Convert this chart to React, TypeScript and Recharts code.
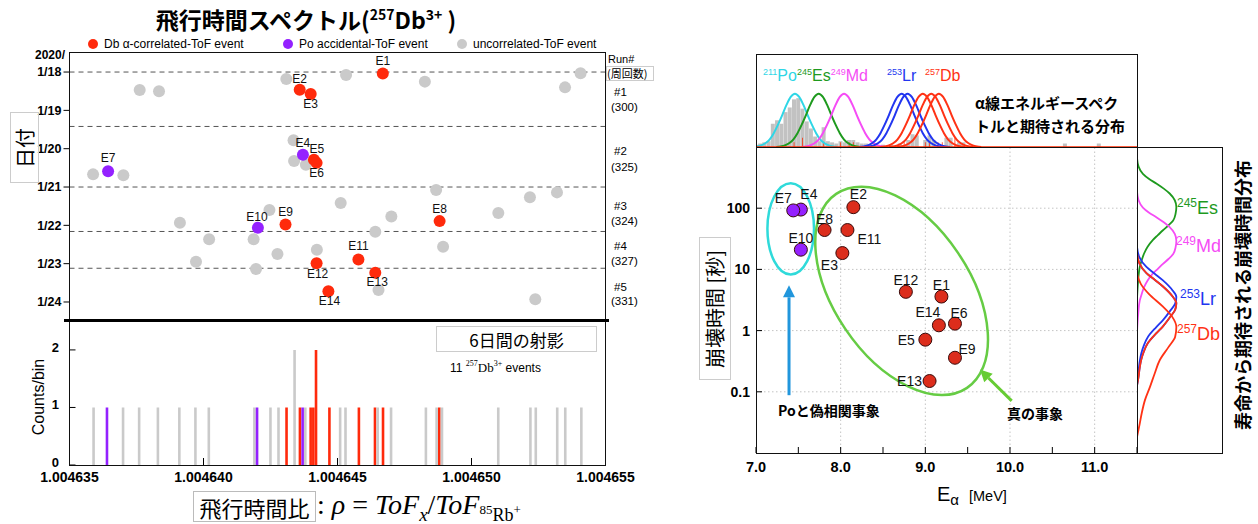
import React from "react";
import {
  ScatterChart,
  Scatter,
  XAxis,
  YAxis,
  ReferenceLine,
  ReferenceDot,
  BarChart,
  Bar,
  Cell,
  ComposedChart,
  Line,
} from "recharts";

const SANS = '"Liberation Sans", Arial, Helvetica, sans-serif';
const JP = '"Noto Sans CJK JP", "Noto Sans", sans-serif';
const SERIF = '"Liberation Serif", "Times New Roman", serif';

const RED = "#ff2a0c";
const PURPLE = "#9421ff";
const GRAY = "#cacaca";
const CYAN = "#2fd6e6";
const GREEN = "#1e9a1e";
const MAGENTA = "#f54cf5";
const BLUE = "#2236f0";
const DBRED = "#ff3215";

// ---------- left: ToF ratio vs date (day of Jan 2020) ----------
const dbTof = [
  { id: "E1", rho: 1.00464669, day: 18.04 },
  { id: "E2", rho: 1.00464359, day: 18.46 },
  { id: "E3", rho: 1.004644, day: 18.57 },
  { id: "E5", rho: 1.00464412, day: 20.29 },
  { id: "E6", rho: 1.00464422, day: 20.37 },
  { id: "E8", rho: 1.00464881, day: 21.89 },
  { id: "E9", rho: 1.00464306, day: 21.98 },
  { id: "E11", rho: 1.00464578, day: 22.89 },
  { id: "E12", rho: 1.00464422, day: 22.99 },
  { id: "E13", rho: 1.00464641, day: 23.24 },
  { id: "E14", rho: 1.00464466, day: 23.72 },
];
const poTof = [
  { id: "E4", rho: 1.00464371, day: 20.16 },
  { id: "E7", rho: 1.00463644, day: 20.59 },
  { id: "E10", rho: 1.00464203, day: 22.06 },
];
const otherTof = [
  { rho: 1.00463762, day: 18.47 },
  { rho: 1.00463834, day: 18.5 },
  { rho: 1.00464309, day: 18.18 },
  { rho: 1.00464532, day: 18.08 },
  { rho: 1.00464826, day: 18.25 },
  { rho: 1.00465349, day: 18.4 },
  { rho: 1.00465407, day: 18.03 },
  { rho: 1.00464336, day: 19.78 },
  { rho: 1.00464338, day: 20.32 },
  { rho: 1.00464382, day: 20.42 },
  { rho: 1.00463588, day: 20.67 },
  { rho: 1.00463701, day: 20.69 },
  { rho: 1.00464868, day: 21.08 },
  { rho: 1.00465218, day: 21.27 },
  { rho: 1.00465319, day: 21.14 },
  { rho: 1.00464512, day: 21.42 },
  { rho: 1.00464246, day: 21.6 },
  { rho: 1.00464701, day: 21.77 },
  { rho: 1.004651, day: 21.68 },
  { rho: 1.00463912, day: 21.93 },
  { rho: 1.00464641, day: 22.17 },
  { rho: 1.00464021, day: 22.36 },
  { rho: 1.00464187, day: 22.36 },
  { rho: 1.00464894, day: 22.56 },
  { rho: 1.00464423, day: 22.64 },
  { rho: 1.00464276, day: 22.75 },
  { rho: 1.00463972, day: 22.95 },
  { rho: 1.00464196, day: 23.14 },
  { rho: 1.00464653, day: 23.69 },
  { rho: 1.00465238, day: 23.93 },
];
const dayTicks = [18, 19, 20, 21, 22, 23, 24];
const runBounds = [18, 19.42, 21.0, 22.16, 23.12];
const rhoTicks = [1.004635, 1.00464, 1.004645, 1.00465, 1.004655];
const countTicks = [0, 1, 2];

// ---------- right: decay time vs alpha energy ----------
const dbDecays = [
  { id: "E1", e: 9.19, t: 3.6 },
  { id: "E2", e: 8.15, t: 104 },
  { id: "E3", e: 8.02, t: 18.5 },
  { id: "E5", e: 9.0, t: 0.71 },
  { id: "E6", e: 9.35, t: 1.3 },
  { id: "E8", e: 7.81, t: 44 },
  { id: "E9", e: 9.35, t: 0.36 },
  { id: "E11", e: 8.08, t: 44 },
  { id: "E12", e: 8.77, t: 4.3 },
  { id: "E13", e: 9.05, t: 0.15 },
  { id: "E14", e: 9.16, t: 1.22 },
];
const poDecays = [
  { id: "E4", e: 7.53, t: 95 },
  { id: "E7", e: 7.44, t: 92 },
  { id: "E10", e: 7.53, t: 21 },
];
const energyTicks = [7, 7.5, 8, 8.5, 9, 9.5, 10, 10.5, 11, 11.5];
const timeTicks = [0.1, 1, 10, 100];

// alpha spectrum (gray histogram, 0.05 MeV bins)
const specE = [
  7.0, 7.05, 7.1, 7.15, 7.2, 7.25, 7.3, 7.35, 7.4, 7.45, 7.5, 7.55, 7.6, 7.65,
  7.7, 7.75, 7.8, 7.85, 7.9, 7.95, 8.0, 8.05, 8.1, 8.15, 8.2, 8.25, 8.3, 8.35,
  8.4, 8.5, 8.6, 8.7, 8.8, 8.85, 8.9, 9.0, 9.05, 9.1, 9.25, 9.3, 9.4, 9.45,
  10.65, 11.05,
];
const specGray = [
  0.1, 0.15, 0.2, 0.25, 1.0, 1.15, 1.0, 1.5, 1.7, 2.05, 2.1, 1.65, 1.1, 0.8,
  0.45, 0.25, 0.85, 0.25, 0.2, 0.15, 0.25, 0.2, 0.3, 0.3, 0.2, 0.15, 0.15, 0.1,
  0.1, 0.1, 0.1, 0.15, 0.3, 0.55, 0.5, 0.3, 0.5, 0.3, 0.4, 0.4, 0.2, 0.2, 0.15,
  0.15,
];

// expected alpha lines: peak energy, and one shape
const alphaPeaks = [
  { name: "Po211", e: 7.46, color: CYAN },
  { name: "Es245", e: 7.74, color: GREEN },
  { name: "Md249", e: 8.04, color: MAGENTA },
  { name: "Lr253a", e: 8.72, color: BLUE },
  { name: "Lr253b", e: 8.79, color: BLUE },
  { name: "Db257a", e: 8.97, color: DBRED },
  { name: "Db257b", e: 9.07, color: DBRED },
  { name: "Db257c", e: 9.16, color: DBRED },
];
const alphaShape = [
  [-0.5, 0], [-0.45, 0.01], [-0.4, 0.03], [-0.35, 0.07], [-0.3, 0.14],
  [-0.25, 0.26], [-0.2, 0.42], [-0.15, 0.6], [-0.1, 0.79], [-0.05, 0.94],
  [0, 1], [0.05, 0.94], [0.1, 0.79], [0.15, 0.6], [0.2, 0.42], [0.25, 0.26],
  [0.3, 0.14], [0.35, 0.07], [0.4, 0.03], [0.45, 0.01], [0.5, 0],
];

// expected decay-time distributions (log10 seconds), shapes
const narrowShape = [
  [0.8, 0], [0.66, 0.04], [0.54, 0.15], [0.46, 0.3], [0.38, 0.5], [0.3, 0.68],
  [0.22, 0.83], [0.11, 0.96], [0, 1], [-0.11, 0.98], [-0.22, 0.92],
  [-0.3, 0.8], [-0.38, 0.66], [-0.46, 0.53], [-0.54, 0.4], [-0.65, 0.27],
  [-0.76, 0.18], [-0.87, 0.12], [-0.98, 0.07], [-1.2, 0.03], [-1.5, 0],
];
const lrShape = [
  [0.82, 0], [0.65, 0.06], [0.49, 0.24], [0.38, 0.45], [0.27, 0.66],
  [0.11, 0.9], [0, 1], [-0.11, 0.97], [-0.22, 0.85], [-0.38, 0.66],
  [-0.5, 0.48], [-0.65, 0.28], [-0.8, 0.17], [-0.92, 0.11], [-1.05, 0.07],
  [-1.2, 0.04], [-1.35, 0],
];
const wideShape = [
  [0.87, 0], [0.7, 0.1], [0.54, 0.3], [0.33, 0.66], [0.16, 0.9], [0, 1],
  [-0.16, 0.97], [-0.33, 0.8], [-0.54, 0.58], [-0.76, 0.45], [-0.98, 0.33],
  [-1.2, 0.2], [-1.41, 0.12], [-1.58, 0.07], [-1.8, 0],
];
const decayPeaks = [
  { name: "Es", lt: 2.02, shape: narrowShape, color: GREEN },
  { name: "Md", lt: 1.47, shape: narrowShape, color: MAGENTA },
  { name: "Lr1", lt: 0.55, shape: lrShape, color: BLUE },
  { name: "Lr2", lt: 0.45, shape: lrShape, color: BLUE },
  { name: "Db1", lt: 0.45, shape: lrShape, color: DBRED },
  { name: "Db2", lt: 0.06, shape: wideShape, color: DBRED },
];

// ---------- derived tables ----------
const RHO0 = 1.004635;
const RHO1 = 1.004655;
const BIN = 1e-7;
const tofBins = new Map<number, { u: number; p: number; d: number }>();
const addTof = (list: { rho: number }[], k: "u" | "p" | "d") =>
  list.forEach((ev) => {
    const b = Math.round((ev.rho - RHO0) / BIN);
    const row = tofBins.get(b) ?? { u: 0, p: 0, d: 0 };
    row[k] += 1;
    tofBins.set(b, row);
  });
addTof(otherTof, "u");
addTof(poTof, "p");
addTof(dbTof, "d");
const kindColor: Record<string, string> = { u: GRAY, p: PURPLE, d: RED };
const histRows = [...tofBins.entries()]
  .sort((a, b) => a[0] - b[0])
  .map(([b, c]) => {
    const kind = c.d ? "d" : c.p ? "p" : "u";
    return { rho: RHO0 + b * BIN, n: c[kind as "u" | "p" | "d"], kind };
  });

const grayRows = specE.map((e, i) => ({ e, gray: specGray[i] }));
const redMap = new Map<number, number>();
[...dbDecays, ...poDecays].forEach((p) => {
  const k = Math.round(p.e * 20);
  redMap.set(k, (redMap.get(k) ?? 0) + 1);
});
const redRows = [...redMap.entries()]
  .sort((a, b) => a[0] - b[0])
  .map(([k, n]) => ({ e: k / 20, red: n }));

const alphaCurves = alphaPeaks.map((p) => ({
  ...p,
  data: alphaShape.map(([o, h]) => ({ e: p.e + o, h })),
}));
const decayCurves = decayPeaks.map((p) => ({
  ...p,
  data: p.shape.map(([o, d]) => ({ lt: p.lt + o, d })).sort((a, b) => a.lt - b.lt),
}));

// label placement (dx, dy from the dot centre)
const tofLabel: Record<string, [number, number]> = {
  E1: [0, -13], E2: [0, -11], E3: [0, 10], E4: [0, -12], E5: [3, -11],
  E6: [0, 10], E7: [0, -13], E8: [0, -12], E9: [0, -13], E10: [-1, -11],
  E11: [0, -13], E12: [1, 11], E13: [2, 9], E14: [1, 10],
};
const decayLabel: Record<string, [number, number]> = {
  E1: [0, -12], E2: [5, -13], E3: [-13, 12], E4: [8, -16], E5: [-19, 0],
  E6: [4, -11], E7: [-10, -12], E8: [0, -11], E9: [12, -9], E10: [0, -12],
  E11: [22, 9], E12: [0, -12], E13: [-20, 0], E14: [-11, -13],
};

const dot =
  (fill: string, r: number, stroke?: string, labels?: Record<string, [number, number]>, fs = 12) =>
  (props: any) => {
    const { cx, cy, payload } = props;
    const off = labels && payload && labels[payload.id];
    return (
      <g>
        <circle cx={cx} cy={cy} r={r} fill={fill} stroke={stroke ?? "none"} strokeWidth={1} />
        {off && (
          <text
            x={cx + off[0]}
            y={cy + off[1]}
            textAnchor="middle"
            dominantBaseline="central"
            fontSize={fs}
            fontFamily={SANS}
            fill="#111"
          >
            {payload.id}
          </text>
        )}
      </g>
    );
  };

const ellipse = (rx: number, ry: number, angle: number, color: string) => (p: any) => (
  <ellipse
    cx={p.cx}
    cy={p.cy}
    rx={rx}
    ry={ry}
    transform={`rotate(${angle} ${p.cx} ${p.cy})`}
    fill="none"
    stroke={color}
    strokeWidth={2.5}
  />
);

const arrow = (color: string) => (p: any) => {
  const { x1, y1, x2, y2 } = p;
  const a = Math.atan2(y2 - y1, x2 - x1);
  const L = 12;
  const W = 6;
  const bx = x2 - L * Math.cos(a);
  const by = y2 - L * Math.sin(a);
  const pts = [
    [x2, y2],
    [bx - W * Math.sin(a), by + W * Math.cos(a)],
    [bx + W * Math.sin(a), by - W * Math.cos(a)],
  ]
    .map((q) => q.join(","))
    .join(" ");
  return (
    <g>
      <line x1={x1} y1={y1} x2={bx} y2={by} stroke={color} strokeWidth={3} />
      <polygon points={pts} fill={color} />
    </g>
  );
};

const Sup = ({ children, size }: { children: React.ReactNode; size: number }) => (
  <span style={{ fontSize: size, verticalAlign: "super", lineHeight: 0 }}>{children}</span>
);

const Txt = ({
  x,
  y,
  ax = 0,
  rot = 0,
  style,
  children,
}: {
  x: number;
  y: number;
  ax?: number;
  rot?: number;
  style?: React.CSSProperties;
  children: React.ReactNode;
}) => (
  <div
    style={{
      position: "absolute",
      left: x,
      top: y,
      whiteSpace: "nowrap",
      lineHeight: 1,
      transform: `translate(${-ax * 100}%, -50%)${rot ? ` rotate(${rot}deg)` : ""}`,
      transformOrigin: rot ? "50% 50%" : undefined,
      ...style,
    }}
  >
    {children}
  </div>
);

const Frame = ({ l, t, r, b, w = 1 }: { l: number; t: number; r: number; b: number; w?: number }) => (
  <div
    style={{
      position: "absolute",
      left: l,
      top: t,
      width: r - l,
      height: b - t,
      border: `${w}px solid #111`,
      boxSizing: "border-box",
      pointerEvents: "none",
    }}
  />
);

const tickFont = (size: number, dy = 0) => ({
  fontSize: size,
  fontWeight: 700,
  fill: "#000",
  fontFamily: SANS,
  dy,
});

// shared geometry of the alpha-spectrum panel (gray layer and red layer)
const specBox = { width: 411, height: 113, margin: { top: 10, right: 20, bottom: 0, left: 0 } };

export default function App() {
  return (
    <div
      style={{
        position: "absolute",
        left: 0,
        top: 0,
        width: 1258,
        height: 524,
        background: "#fff",
        fontFamily: SANS,
        color: "#000",
        overflow: "hidden",
      }}
    >
      {/* ---------- left: title & legend ---------- */}
      <Txt x={306} y={19} ax={0.5} style={{ fontFamily: JP, fontWeight: 700, fontSize: 23 }}>
        飛行時間スペクトル(<Sup size={14}>257</Sup>Db<Sup size={14}>3+</Sup> )
      </Txt>
      {[
        { c: RED, x: 93, label: "Db α-correlated-ToF event" },
        { c: PURPLE, x: 288, label: "Po accidental-ToF event" },
        { c: GRAY, x: 462, label: "uncorrelated-ToF event" },
      ].map((it) => (
        <React.Fragment key={it.label}>
          <div
            style={{
              position: "absolute",
              left: it.x - 5,
              top: 39,
              width: 10,
              height: 10,
              borderRadius: 5,
              background: it.c,
            }}
          />
          <Txt x={it.x + 11} y={44} style={{ fontSize: 12 }}>
            {it.label}
          </Txt>
        </React.Fragment>
      ))}

      {/* ---------- left: ToF vs date ---------- */}
      <div style={{ position: "absolute", left: 0, top: 0 }}>
        <ScatterChart width={620} height={330} margin={{ top: 52.5, right: 14.5, bottom: 10, left: 0 }}>
          <XAxis
            dataKey="rho"
            type="number"
            orientation="top"
            domain={[RHO0, RHO1]}
            ticks={rhoTicks.slice(1, 4)}
            tick={false}
            tickSize={-7}
            axisLine={false}
            height={0}
            stroke="#000"
            allowDataOverflow
          />
          <YAxis
            dataKey="day"
            type="number"
            reversed
            domain={[17.49, 24.47]}
            ticks={dayTicks}
            interval={0}
            tickFormatter={(d: number) => `1/${d}`}
            width={69.5}
            tickSize={6}
            tickMargin={2}
            axisLine={false}
            stroke="#000"
            tick={tickFont(12.5)}
            allowDataOverflow
          />
          <YAxis
            yAxisId="run"
            orientation="right"
            type="number"
            reversed
            domain={[17.49, 24.47]}
            ticks={[runBounds[0], runBounds[2]]}
            tick={false}
            tickSize={7}
            axisLine={false}
            width={0}
            stroke="#000"
          />
          {runBounds.map((d) => (
            <ReferenceLine key={d} y={d} stroke="#555" strokeDasharray="5 4" />
          ))}
          <Scatter data={otherTof} shape={dot(GRAY, 6)} isAnimationActive={false} />
          <Scatter data={poTof} shape={dot(PURPLE, 6, undefined, tofLabel, 12)} isAnimationActive={false} />
          <Scatter data={dbTof} shape={dot(RED, 6, undefined, tofLabel, 12)} isAnimationActive={false} />
        </ScatterChart>
      </div>
      <Txt x={65} y={55} ax={1} style={{ fontSize: 12, fontWeight: 700 }}>
        2020/
      </Txt>
      <div
        style={{
          position: "absolute",
          left: 10,
          top: 112,
          width: 29,
          height: 71,
          border: "1px solid #ccc",
          boxSizing: "border-box",
        }}
      />
      <Txt x={24.5} y={147.5} ax={0.5} rot={-90} style={{ fontFamily: JP, fontSize: 20 }}>
        日付
      </Txt>
      <Txt x={608} y={59} style={{ fontSize: 11 }}>
        Run#
      </Txt>
      <div
        style={{
          position: "absolute",
          left: 606,
          top: 66,
          width: 48,
          height: 15,
          border: "1px solid #ccc",
          boxSizing: "border-box",
        }}
      />
      <Txt x={607} y={73} style={{ fontFamily: JP, fontSize: 11 }}>
        (周回数)
      </Txt>
      {[
        ["#1", "(300)", 93, 108],
        ["#2", "(325)", 152, 168],
        ["#3", "(324)", 207, 222],
        ["#4", "(327)", 247, 262],
        ["#5", "(331)", 288, 302],
      ].map(([a, b, y1, y2]) => (
        <React.Fragment key={a as string}>
          <Txt x={614} y={y1 as number} style={{ fontSize: 11.5 }}>
            {a}
          </Txt>
          <Txt x={611} y={y2 as number} style={{ fontSize: 11.5 }}>
            {b}
          </Txt>
        </React.Fragment>
      ))}

      {/* ---------- left: projection histogram ---------- */}
      <div style={{ position: "absolute", left: 0, top: 300 }}>
        <BarChart width={660} height={200} data={histRows} margin={{ top: 20, right: 54.5, bottom: 0, left: 0 }}>
          <XAxis
            dataKey="rho"
            type="number"
            domain={[RHO0, RHO1]}
            ticks={rhoTicks}
            interval={0}
            tickFormatter={(v: number) => v.toFixed(6)}
            height={35}
            tickSize={-7}
            tickMargin={14}
            axisLine={false}
            stroke="#000"
            tick={tickFont(14)}
            allowDataOverflow
          />
          <XAxis
            xAxisId="top"
            orientation="top"
            type="number"
            domain={[RHO0, RHO1]}
            ticks={rhoTicks.slice(1, 4)}
            tick={false}
            tickSize={-7}
            axisLine={false}
            height={0}
            stroke="#000"
          />
          <YAxis
            type="number"
            domain={[0, 2.52]}
            ticks={countTicks}
            interval={0}
            width={69.5}
            tickSize={-6}
            tickMargin={16.5}
            axisLine={false}
            stroke="#000"
            tick={tickFont(13, -3)}
            allowDataOverflow
          />
          <YAxis
            yAxisId="r"
            orientation="right"
            type="number"
            domain={[0, 2.52]}
            ticks={[1, 2]}
            tick={false}
            tickSize={-6}
            axisLine={false}
            width={0}
            stroke="#000"
          />
          <Bar dataKey="n" barSize={2.6} isAnimationActive={false}>
            {histRows.map((r, i) => (
              <Cell key={i} fill={kindColor[r.kind]} />
            ))}
          </Bar>
        </BarChart>
      </div>
      <Frame l={69} t={52} r={606} b={466} />
      <div style={{ position: "absolute", left: 64, top: 319, width: 545, height: 3, background: "#000" }} />
      <Txt x={38.5} y={397} ax={0.5} rot={-90} style={{ fontSize: 16 }}>
        Counts/bin
      </Txt>
      <div
        style={{
          position: "absolute",
          left: 436,
          top: 326,
          width: 161,
          height: 26,
          border: "1px solid #ccc",
          background: "#fff",
          boxSizing: "border-box",
        }}
      />
      <Txt x={516.5} y={339} ax={0.5} style={{ fontFamily: JP, fontSize: 17 }}>
        6日間の射影
      </Txt>
      <Txt x={450} y={367} style={{ fontSize: 12 }}>
        11{"  "}
        <span style={{ fontFamily: SERIF, fontSize: 13 }}>
          <Sup size={8}>257</Sup>Db<Sup size={8}>3+</Sup>
        </span>
        {"  "}events
      </Txt>
      <div
        style={{
          position: "absolute",
          left: 193,
          top: 491,
          width: 123,
          height: 31,
          border: "1px solid #bbb",
          boxSizing: "border-box",
        }}
      />
      <Txt x={254.5} y={506.5} ax={0.5} style={{ fontFamily: JP, fontSize: 22 }}>
        飛行時間比
      </Txt>
      <Txt x={317} y={505} style={{ fontFamily: SERIF, fontSize: 28 }}>
        : <i>ρ</i> = <i>ToF</i>
        <sub style={{ fontSize: 19, lineHeight: 0 }}>
          <i>x</i>
        </sub>
        /<i>ToF</i>
        <sub style={{ fontSize: 18, lineHeight: 0 }}>
          <Sup size={13}>85</Sup>Rb<Sup size={13}>+</Sup>
        </sub>
      </Txt>

      {/* ---------- right: alpha spectrum on top (gray layer) ---------- */}
      <div style={{ position: "absolute", left: 746, top: 44 }}>
        <ComposedChart {...specBox} data={grayRows} barCategoryGap={0}>
          <XAxis
            dataKey="e"
            type="number"
            domain={[7, 11.5]}
            ticks={energyTicks}
            tick={false}
            tickSize={-5}
            axisLine={false}
            height={10}
            stroke="#000"
            allowDataOverflow
          />
          <XAxis
            xAxisId="top"
            orientation="top"
            type="number"
            domain={[7, 11.5]}
            ticks={energyTicks}
            tick={false}
            tickSize={-5}
            axisLine={false}
            height={0}
            stroke="#000"
          />
          <YAxis type="number" domain={[0, 4]} ticks={[1, 2, 3]} tick={false} tickSize={-5} axisLine={false} width={10} stroke="#888" allowDataOverflow />
          <YAxis yAxisId="right" orientation="right" type="number" domain={[0, 4]} ticks={[1, 2, 3]} tick={false} tickSize={-5} axisLine={false} width={0} stroke="#888" />
          <Bar dataKey="gray" fill="#c2c2c2" barSize={4} isAnimationActive={false} />
        </ComposedChart>
      </div>
      {/* ---------- right: alpha spectrum on top (events + expected lines) ---------- */}
      <div style={{ position: "absolute", left: 746, top: 44 }}>
        <ComposedChart {...specBox} data={redRows} barCategoryGap={0}>
          <XAxis dataKey="e" type="number" domain={[7, 11.5]} tick={false} tickLine={false} axisLine={false} height={10} allowDataOverflow />
          <YAxis yAxisId="ev" type="number" domain={[0, 20]} tick={false} tickLine={false} axisLine={false} width={10} allowDataOverflow />
          <YAxis yAxisId="g" type="number" domain={[0, 4 / 2.29]} hide allowDataOverflow />
          <Bar dataKey="red" yAxisId="ev" fill="#ff2a00" barSize={4} isAnimationActive={false} />
          {alphaCurves.map((c) => (
            <Line
              key={c.name}
              yAxisId="g"
              data={c.data}
              dataKey="h"
              type="monotone"
              stroke={c.color}
              strokeWidth={2}
              dot={false}
              isAnimationActive={false}
            />
          ))}
          <ReferenceLine yAxisId="ev" y={0} stroke="#ff2a00" strokeWidth={1.5} />
        </ComposedChart>
      </div>
      <Frame l={756} t={54} r={1138} b={148} />
      <div style={{ position: "absolute", left: 763, top: 68, fontSize: 16, lineHeight: 1, whiteSpace: "nowrap" }}>
        <span style={{ color: CYAN }}>
          <Sup size={9}>211</Sup>Po
        </span>
        <span style={{ color: GREEN }}>
          <Sup size={9}>245</Sup>Es
        </span>
        <span style={{ color: MAGENTA }}>
          <Sup size={9}>249</Sup>Md
        </span>
      </div>
      <div style={{ position: "absolute", left: 887, top: 68, fontSize: 16, lineHeight: 1, whiteSpace: "nowrap" }}>
        <span style={{ color: BLUE }}>
          <Sup size={9}>253</Sup>Lr
        </span>
      </div>
      <div style={{ position: "absolute", left: 925, top: 68, fontSize: 16, lineHeight: 1, whiteSpace: "nowrap" }}>
        <span style={{ color: DBRED }}>
          <Sup size={9}>257</Sup>Db
        </span>
      </div>
      <Txt x={975} y={102} style={{ fontFamily: JP, fontWeight: 700, fontSize: 15 }}>
        α線エネルギースペク
      </Txt>
      <Txt x={975} y={125} style={{ fontFamily: JP, fontWeight: 700, fontSize: 15 }}>
        トルと期待される分布
      </Txt>

      {/* ---------- right: decay time vs energy ---------- */}
      <div style={{ position: "absolute", left: 690, top: 140 }}>
        <ScatterChart width={480} height={350} margin={{ top: 7, right: 33, bottom: 0, left: 0 }}>
          <XAxis
            dataKey="e"
            type="number"
            domain={[7, 11.5]}
            ticks={energyTicks}
            interval={0}
            tickFormatter={(v: number) => (Number.isInteger(v) && v < 11.5 ? v.toFixed(1) : "")}
            height={37}
            tickSize={-6}
            tickMargin={15}
            axisLine={false}
            stroke="#000"
            tick={tickFont(14.5)}
            allowDataOverflow
          />
          <XAxis
            xAxisId="top"
            orientation="top"
            type="number"
            domain={[7, 11.5]}
            ticks={energyTicks}
            tick={false}
            tickSize={-6}
            axisLine={false}
            height={0}
            stroke="#000"
          />
          <YAxis
            dataKey="t"
            type="number"
            scale="log"
            domain={[0.01, 1000]}
            ticks={timeTicks}
            interval={0}
            tickFormatter={(v: number) => String(v)}
            width={66}
            tickSize={-6}
            tickMargin={12}
            axisLine={false}
            stroke="#000"
            tick={tickFont(14)}
            allowDataOverflow
          />
          <YAxis
            yAxisId="r"
            orientation="right"
            type="number"
            scale="log"
            domain={[0.01, 1000]}
            ticks={timeTicks}
            tick={false}
            tickSize={-6}
            axisLine={false}
            width={0}
            stroke="#000"
          />
          {[8, 9, 10, 11].map((v) => (
            <ReferenceLine key={`x${v}`} x={v} stroke="#c4c4c4" strokeDasharray="1.5 2.5" />
          ))}
          {timeTicks.map((v) => (
            <ReferenceLine key={`y${v}`} y={v} stroke="#c4c4c4" strokeDasharray="1.5 2.5" />
          ))}
          <ReferenceDot x={7.41} y={46} r={1} shape={ellipse(23.3, 45.7, 0, "#2fdada")} />
          <ReferenceDot x={8.72} y={4.46} r={1} shape={ellipse(117, 68, 56, "#66cc44")} />
          <ReferenceLine
            segment={[
              { x: 7.39, y: 0.088 },
              { x: 7.39, y: 5.5 },
            ]}
            shape={arrow("#2196dc")}
          />
          <ReferenceLine
            segment={[
              { x: 10.02, y: 0.071 },
              { x: 9.645, y: 0.231 },
            ]}
            shape={arrow("#66cc33")}
          />
          <Scatter data={poDecays} shape={dot(PURPLE, 6.5, "#3a0a0a", decayLabel, 14)} isAnimationActive={false} />
          <Scatter data={dbDecays} shape={dot("#dc2d1c", 6.5, "#3a0a0a", decayLabel, 14)} isAnimationActive={false} />
        </ScatterChart>
      </div>
      <Frame l={756} t={147} r={1138} b={454} />
      <div
        style={{
          position: "absolute",
          left: 699,
          top: 237,
          width: 32,
          height: 143,
          border: "1px solid #ccc",
          boxSizing: "border-box",
        }}
      />
      <Txt x={715} y={308.5} ax={0.5} rot={-90} style={{ fontFamily: JP, fontSize: 20 }}>
        崩壊時間 [秒]
      </Txt>
      <Txt x={778} y={410} style={{ fontFamily: JP, fontWeight: 700, fontSize: 14 }}>
        Poと偽相関事象
      </Txt>
      <Txt x={1007} y={413} style={{ fontFamily: JP, fontWeight: 700, fontSize: 14 }}>
        真の事象
      </Txt>
      <Txt x={937} y={494} style={{ fontSize: 20 }}>
        E<span style={{ fontSize: 15, position: "relative", top: 4 }}>α</span>
        <span style={{ fontSize: 14.5, marginLeft: 10 }}>[MeV]</span>
      </Txt>

      {/* ---------- right: expected decay-time distributions ---------- */}
      <div style={{ position: "absolute", left: 1137, top: 137 }}>
        <ComposedChart layout="vertical" width={85} height={326} margin={{ top: 10, right: 0, bottom: 10, left: 0 }}>
          <XAxis type="number" domain={[0, 2.16]} hide allowDataOverflow />
          <YAxis type="number" dataKey="lt" domain={[-2, 3]} reversed hide allowDataOverflow />
          {decayCurves.map((c) => (
            <Line
              key={c.name}
              data={c.data}
              dataKey="d"
              type="monotone"
              stroke={c.color}
              strokeWidth={1.8}
              dot={false}
              isAnimationActive={false}
            />
          ))}
        </ComposedChart>
      </div>
      <Frame l={1137} t={147} r={1223} b={454} />
      <Txt x={1177} y={208} style={{ color: GREEN, fontSize: 18 }}>
        <Sup size={12}>245</Sup>Es
      </Txt>
      <Txt x={1176} y={246} style={{ color: MAGENTA, fontSize: 18 }}>
        <Sup size={12}>249</Sup>Md
      </Txt>
      <Txt x={1180} y={299} style={{ color: BLUE, fontSize: 18 }}>
        <Sup size={12}>253</Sup>Lr
      </Txt>
      <Txt x={1177} y={334} style={{ color: DBRED, fontSize: 18 }}>
        <Sup size={12}>257</Sup>Db
      </Txt>
      <Txt x={1242} y={295} ax={0.5} rot={-90} style={{ fontFamily: JP, fontWeight: 700, fontSize: 18 }}>
        寿命から期待される崩壊時間分布
      </Txt>
    </div>
  );
}
